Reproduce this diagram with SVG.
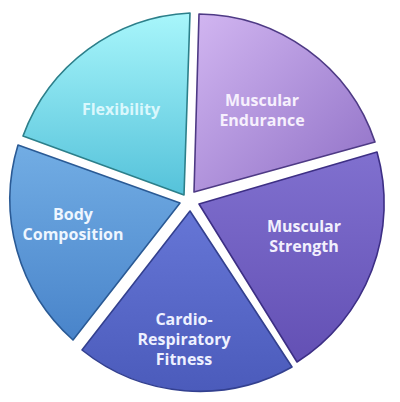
<svg xmlns="http://www.w3.org/2000/svg" width="400" height="402" viewBox="0 0 400 402">
  <defs>
    <linearGradient id="gFlex" x1="0" y1="0" x2="0" y2="1">
      <stop offset="0" stop-color="#a8f6fb"/>
      <stop offset="1" stop-color="#55c2da"/>
    </linearGradient>
    <linearGradient id="gEnd" x1="0" y1="0" x2="1" y2="1">
      <stop offset="0" stop-color="#d2b6f1"/>
      <stop offset="1" stop-color="#8f70c6"/>
    </linearGradient>
    <linearGradient id="gStr" x1="0" y1="0" x2="0" y2="1">
      <stop offset="0" stop-color="#8070cf"/>
      <stop offset="1" stop-color="#6350b4"/>
    </linearGradient>
    <linearGradient id="gCar" x1="0" y1="0" x2="0" y2="1">
      <stop offset="0" stop-color="#6676d6"/>
      <stop offset="1" stop-color="#4b5bbb"/>
    </linearGradient>
    <linearGradient id="gBody" x1="0" y1="0" x2="0" y2="1">
      <stop offset="0" stop-color="#72ade4"/>
      <stop offset="1" stop-color="#4984ca"/>
    </linearGradient>
  </defs>
  <style>
    .slice { stroke-width: 1.6; stroke-linejoin: round; }
    .lbl { font-family: "Open Sans", "Liberation Sans", sans-serif; font-weight: 700; text-anchor: middle; font-size: 16px; }
  </style>

  <g id="flexibility">
    <path class="slice" d="M184,195 L23,136 A188,188 0 0 1 190,13 Z" fill="url(#gFlex)" stroke="#2c7f8a"/>
    <text class="lbl" x="121" y="115" fill="#e4fbff" fill-opacity="0.92">Flexibility</text>
  </g>
  <g id="muscular-endurance">
    <path class="slice" d="M194,192 L199,14 A188,188 0 0 1 375,142 Z" fill="url(#gEnd)" stroke="#4e3a85"/>
    <text class="lbl" x="262" y="106" fill="#f6f0fd">Muscular</text>
    <text class="lbl" x="262" y="126" fill="#f6f0fd">Endurance</text>
  </g>
  <g id="muscular-strength">
    <path class="slice" d="M199,204 L377,152 A188,188 0 0 1 297,362 Z" fill="url(#gStr)" stroke="#3d2f85"/>
    <text class="lbl" x="304" y="232" fill="#f2f0fd">Muscular</text>
    <text class="lbl" x="304" y="252" fill="#f2f0fd">Strength</text>
  </g>
  <g id="cardio-respiratory-fitness">
    <path class="slice" d="M190,211 L292,367 A188,188 0 0 1 82,350 Z" fill="url(#gCar)" stroke="#33408f"/>
    <text class="lbl" x="184" y="325" fill="#eef1ff">Cardio-</text>
    <text class="lbl" x="184" y="345" fill="#eef1ff">Respiratory</text>
    <text class="lbl" x="184" y="365" fill="#eef1ff">Fitness</text>
  </g>
  <g id="body-composition">
    <path class="slice" d="M180,203 L73,340 A188,188 0 0 1 18,145 Z" fill="url(#gBody)" stroke="#2a5a95"/>
    <text class="lbl" x="73" y="220" fill="#eef6ff">Body</text>
    <text class="lbl" x="73" y="240" fill="#eef6ff">Composition</text>
  </g>
  <g id="connectors"/>
</svg>
